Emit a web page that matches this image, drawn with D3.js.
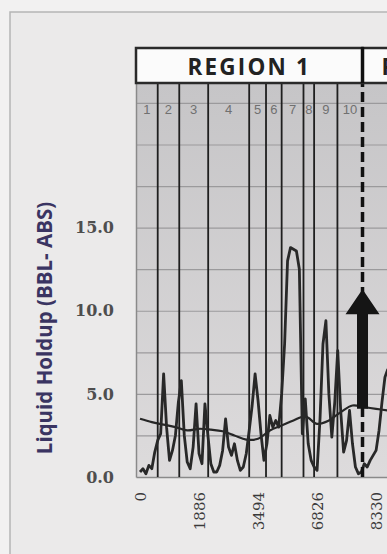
<!DOCTYPE html>
<html>
<head>
<meta charset="utf-8">
<script src="https://cdn.jsdelivr.net/npm/d3@7"></script>
<style>
  html, body { margin: 0; padding: 0; background: #f2f1f1; overflow: hidden; }
</style>
</head>
<body>
<div id="chart"></div>
<script>
// Datos
const xTickIdx = [0, 20, 40, 60, 80];
const xLabels = ["0", "1886", "3494", "6826", "8330"];
const yTicks = [0, 5, 10, 15];
const gridTicks = [2.5, 5, 7.5, 10, 12.5, 15, 17.5, 20, 22.5];
const zoneEdges = [6, 13.3, 23.1, 37, 42.7, 48, 55.4, 59, 66.9];
const regionEdge = 75.4;
const zoneNames = ["1", "2", "3", "4", "5", "6", "7", "8", "9", "10"];
const regionNames = ["REGION 1", "REGION 2"];

// Liquid holdup (una muestra por índice)
const holdup = [
  0.3, 0.5, 0.2, 0.7, 0.5, 1.5, 2.2, 2.6, 6.2, 3.0,
  1.0, 1.6, 2.5, 4.5, 5.8, 2.5, 0.9, 0.5, 1.8, 4.4,
  1.4, 0.8, 4.4, 2.5, 0.8, 0.3, 0.3, 0.7, 1.6, 3.5,
  1.8, 1.3, 2.0, 1.0, 0.4, 0.6, 1.4, 2.8, 4.3, 6.2,
  4.6, 2.6, 1.0, 2.0, 3.7, 3.0, 3.4, 3.0, 5.0, 8.0,
  13.0, 13.8, 13.7, 13.6, 12.5, 2.6, 4.7, 2.0, 1.0, 0.6,
  0.4, 3.5, 8.0, 9.4, 5.0, 2.4, 4.5, 7.6, 4.0, 1.5,
  2.2, 4.0, 2.0, 0.6, 0.2, 0.3, 0.8, 0.6, 1.0, 1.3,
  1.6, 2.8, 4.5, 6.0, 6.5
];

// Tendencia suavizada
const trendIdx = [0, 4, 8, 12, 16, 20, 24, 28, 32, 36, 40, 44, 48, 52, 56, 60, 64, 68, 72, 76, 80, 84];
const trend = [3.5, 3.3, 3.15, 3.0, 2.8, 2.9, 2.85, 2.75, 2.5, 2.25, 2.3, 2.8, 3.1, 3.4, 3.65, 3.2, 3.4, 3.9, 4.3, 4.2, 4.1, 4.0];

// Flecha (en unidades de datos)
const arrowFrom = 4.1;
const arrowTo = 11.3;

const width = 387;
const height = 554;
const plot = { left: 136, right: 387, top: 83, bottom: 477 };

const svg = d3.select("#chart").append("svg")
    .attr("width", width)
    .attr("height", height);

// Marco exterior
svg.append("rect")
    .attr("x", 10).attr("y", 12)
    .attr("width", 420).attr("height", 600)
    .attr("fill", "#ebeaea")
    .attr("stroke", "#b5b5b5")
    .attr("stroke-width", 1.5);

const x = d3.scaleLinear().domain([-1.36, 83.7]).range([plot.left, plot.right]);
const y = d3.scaleLinear().domain([0, 23.7]).range([plot.bottom, plot.top]);

// Fondo del área de trazado
const defs = svg.append("defs");
const grad = defs.append("linearGradient")
    .attr("id", "bg").attr("x1", 0).attr("y1", 0).attr("x2", 0).attr("y2", 1);
grad.append("stop").attr("offset", "0%").attr("stop-color", "#c6c5c7");
grad.append("stop").attr("offset", "100%").attr("stop-color", "#dddbdc");

defs.append("clipPath").attr("id", "clip")
    .append("rect")
    .attr("x", plot.left).attr("y", plot.top)
    .attr("width", plot.right - plot.left + 20)
    .attr("height", plot.bottom - plot.top);

svg.append("rect")
    .attr("x", plot.left).attr("y", plot.top)
    .attr("width", plot.right - plot.left + 10)
    .attr("height", plot.bottom - plot.top)
    .attr("fill", "url(#bg)");

// Líneas de cuadrícula
svg.append("g")
    .attr("transform", `translate(${plot.left},0)`)
    .call(d3.axisLeft(y).tickValues(gridTicks).tickSize(-(plot.right - plot.left + 10)).tickFormat(""))
    .call(g => g.select(".domain").remove())
    .call(g => g.selectAll("line").attr("stroke", "#9b9a9c").attr("stroke-width", 1.2));

// Eje Y
svg.append("g")
    .attr("transform", `translate(${plot.left},0)`)
    .call(d3.axisLeft(y).tickValues(yTicks).tickFormat(d3.format(".1f")).tickSize(0).tickPadding(22))
    .call(g => g.select(".domain").attr("stroke", "#8a8a8a").attr("stroke-width", 1.5))
    .call(g => g.selectAll("text")
        .attr("font-family", "DejaVu Serif")
        .attr("font-weight", "bold")
        .attr("font-size", 16)
        .attr("fill", "#4e4e4e"));

// Eje X
svg.append("g")
    .attr("transform", `translate(0,${plot.bottom})`)
    .call(d3.axisBottom(x).tickValues(xTickIdx).tickFormat((d, i) => xLabels[i]).tickSize(0))
    .call(g => g.select(".domain").attr("stroke", "#8a8a8a").attr("stroke-width", 1.5))
    .call(g => g.selectAll("text")
        .attr("transform", "rotate(-90)")
        .attr("x", -15)
        .attr("y", 0)
        .attr("dy", "0.35em")
        .style("text-anchor", "end")
        .attr("font-family", "DejaVu Serif")
        .attr("font-size", 15)
        .attr("fill", "#3a3a3a"));

// Título del eje Y
svg.append("text")
    .attr("transform", "translate(44,328) rotate(-90)")
    .attr("text-anchor", "middle")
    .attr("dominant-baseline", "central")
    .attr("font-family", "Open Sans")
    .attr("font-weight", "bold")
    .attr("font-size", 20.5)
    .attr("fill", "#3a3462")
    .text("Liquid Holdup (BBL- ABS)");

// Límites de zonas
svg.append("g").selectAll("line")
    .data(zoneEdges)
    .enter().append("line")
    .attr("x1", d => x(d)).attr("x2", d => x(d))
    .attr("y1", plot.top).attr("y2", plot.bottom)
    .attr("stroke", "#1f1f1f")
    .attr("stroke-width", 1.8);

// Números de zona
const edges = [x.domain()[0]].concat(zoneEdges, [regionEdge]);
svg.append("g").selectAll("text")
    .data(zoneNames)
    .enter().append("text")
    .attr("x", (d, i) => x((edges[i] + edges[i + 1]) / 2))
    .attr("y", 109)
    .attr("text-anchor", "middle")
    .attr("dominant-baseline", "central")
    .attr("font-family", "Liberation Sans")
    .attr("font-size", 13)
    .attr("fill", "#707070")
    .text(d => d);

// Series
const plotArea = svg.append("g").attr("clip-path", "url(#clip)");

plotArea.append("path")
    .datum(trend)
    .attr("fill", "none")
    .attr("stroke", "#262626")
    .attr("stroke-width", 2.2)
    .attr("d", d3.line().x((d, i) => x(trendIdx[i])).y(d => y(d)).curve(d3.curveCatmullRom));

plotArea.append("path")
    .datum(holdup)
    .attr("fill", "none")
    .attr("stroke", "#282828")
    .attr("stroke-width", 2.8)
    .attr("stroke-linejoin", "round")
    .attr("d", d3.line().x((d, i) => x(i)).y(d => y(d)));

// Línea discontinua de región
svg.append("line")
    .attr("x1", x(regionEdge)).attr("x2", x(regionEdge))
    .attr("y1", 47).attr("y2", plot.bottom)
    .attr("stroke", "#111")
    .attr("stroke-width", 3.5)
    .attr("stroke-dasharray", "10,5");

// Flecha
const ax = x(regionEdge), tip = y(arrowTo), base = y(arrowFrom);
const head = 25, hw = 17, sw = 5.5;
svg.append("path")
    .attr("d", `M${ax},${tip} L${ax + hw},${tip + head} L${ax + sw},${tip + head} L${ax + sw},${base}
                L${ax - sw},${base} L${ax - sw},${tip + head} L${ax - hw},${tip + head} Z`)
    .attr("fill", "#151515");

// Cabeceras de región
const header = svg.append("g");
header.append("rect")
    .attr("x", plot.left).attr("y", 48)
    .attr("width", x(regionEdge) - plot.left).attr("height", plot.top - 48)
    .attr("fill", "#fbfbfb").attr("stroke", "#2a2a2a").attr("stroke-width", 2.5);
header.append("rect")
    .attr("x", x(regionEdge)).attr("y", 48)
    .attr("width", 250).attr("height", plot.top - 48)
    .attr("fill", "#fbfbfb").attr("stroke", "#2a2a2a").attr("stroke-width", 2.5);

header.append("text")
    .attr("x", (plot.left + x(regionEdge)) / 2)
    .attr("y", 66)
    .attr("text-anchor", "middle")
    .attr("dominant-baseline", "central")
    .attr("font-family", "Open Sans")
    .attr("font-weight", "bold")
    .attr("font-size", 22.5)
    .attr("letter-spacing", 2.2)
    .attr("fill", "#222")
    .text(regionNames[0]);

header.append("text")
    .attr("x", x(regionEdge) + 19)
    .attr("y", 66)
    .attr("dominant-baseline", "central")
    .attr("font-family", "Open Sans")
    .attr("font-weight", "bold")
    .attr("font-size", 22.5)
    .attr("letter-spacing", 2.2)
    .attr("fill", "#222")
    .text(regionNames[1]);

// Redibujar la línea discontinua sobre la cabecera
svg.append("line")
    .attr("x1", x(regionEdge)).attr("x2", x(regionEdge))
    .attr("y1", 47).attr("y2", plot.top)
    .attr("stroke", "#111")
    .attr("stroke-width", 3.5);
</script>
</body>
</html>
